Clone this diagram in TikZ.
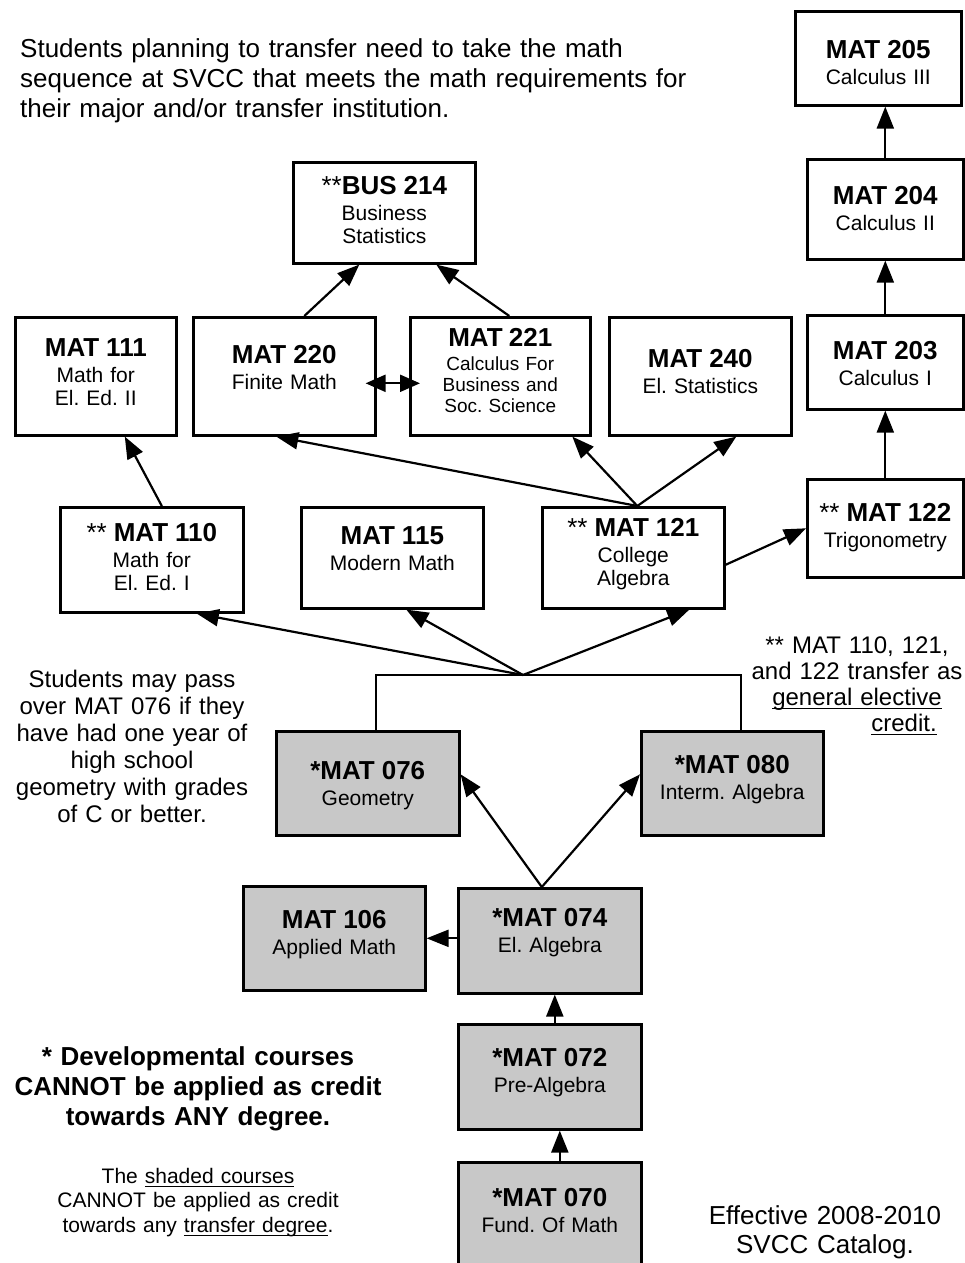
\documentclass[tikz,border=0pt]{standalone}
\usepackage{fontspec}
\setmainfont{Liberation Sans}
\usetikzlibrary{arrows.meta}
\definecolor{shade}{RGB}{200,200,200}
\frenchspacing
\newcommand{\crs}[2]{{\fontsize{26}{26}\selectfont\bfseries #1}\\[3pt]#2}
\newcommand{\uln}[1]{\leavevmode\setbox0\hbox{#1}\rlap{\vrule height -3pt depth 4.3pt width \wd0}\box0}
\begin{document}
\begin{tikzpicture}[x=1pt,y=-1pt]
\tikzstyle{course}=[draw, line width=2.6pt, inner sep=0pt, align=center, anchor=north west, font=\fontsize{21}{23}\selectfont]
\tikzstyle{dev}=[course, fill=shade]
\tikzstyle{link}=[line width=2.2pt]
\tikzstyle{arr}=[link, -{Triangle[length=22pt,width=17pt]}]
\tikzstyle{note}=[inner sep=0pt, align=center, anchor=base]
\useasboundingbox (0,0) rectangle (964,1263);
% calculus column
\node[course, text width=166pt, text height=47pt, text depth=47pt] (m205) at (794,10) {\crs{MAT 205}{Calculus III}};
\node[course, text width=156pt, text height=45pt, text depth=55pt] (m204) at (806,158) {\crs{MAT 204}{Calculus II}};
\node[course, text width=156pt, text height=44pt, text depth=50pt] (m203) at (806,314) {\crs{MAT 203}{Calculus I}};
\node[course, text width=156pt, text height=42pt, text depth=56pt] (m122) at (806,478) {\crs{{\mdseries **} MAT 122}{Trigonometry}};
% upper rows
\node[course, text width=182pt, text height=32pt, text depth=69pt] (b214) at (292,161) {\crs{{\mdseries **}BUS 214}{Business\\Statistics}};
\node[course, text width=161pt, text height=39pt, text depth=79pt] (m111) at (14,316) {\crs{MAT 111}{Math for\\El. Ed. II}};
\node[course, text width=182pt, text height=46pt, text depth=72pt] (m220) at (192,316) {\crs{MAT 220}{Finite Math}};
\node[course, text width=180pt, text height=29pt, text depth=89pt, font=\fontsize{19}{21}\selectfont] (m221) at (409,316) {\crs{MAT 221}{Calculus For\\Business and\\Soc. Science}};
\node[course, text width=182pt, text height=50pt, text depth=68pt] (m240) at (608,316) {\crs{MAT 240}{El. Statistics}};
\node[course, text width=183pt, text height=34pt, text depth=71pt] (m110) at (59,506) {\crs{{\mdseries **} MAT 110}{Math for\\El. Ed. I}};
\node[course, text width=182pt, text height=37pt, text depth=64pt] (m115) at (300,506) {\crs{MAT 115}{Modern Math}};
\node[course, text width=182pt, text height=29pt, text depth=72pt] (m121) at (541,506) {\crs{{\mdseries **} MAT 121}{College\\Algebra}};
% developmental (shaded)
\node[dev, text width=183pt, text height=48pt, text depth=56pt] (m076) at (275,730) {\crs{*MAT 076}{Geometry}};
\node[dev, text width=182pt, text height=42pt, text depth=62pt] (m080) at (640,730) {\crs{*MAT 080}{Interm. Algebra}};
\node[dev, text width=182pt, text height=42pt, text depth=62pt] (m106) at (242,885) {\crs{MAT 106}{Applied Math}};
\node[dev, text width=183pt, text height=38pt, text depth=67pt] (m074) at (457,887) {\crs{*MAT 074}{El. Algebra}};
\node[dev, text width=183pt, text height=42pt, text depth=63pt] (m072) at (457,1023) {\crs{*MAT 072}{Pre-Algebra}};
\node[dev, text width=183pt, text height=44pt, text depth=86pt] (m070) at (457,1161) {\crs{*MAT 070}{Fund. Of Math}};
% connectors
\draw[arr] (m203.north) -- (m204.south);
\draw[arr] (m204.north) -- (m204.north |- m205.south);
\draw[arr] (m122.north) -- (m203.south);
\draw[arr] ([yshift=-7pt]m121.east) -- (m122.west);
\coordinate (j121) at ([xshift=4pt]m121.north);
\draw[arr] (j121) -- ([xshift=-8pt]m220.south);
\draw[arr] (j121) -- ([xshift=72pt]m221.south);
\draw[arr] (j121) -- ([xshift=36pt]m240.south);
\draw[arr] ([xshift=20pt]m220.north) -- ([xshift=-25pt]b214.south);
\draw[arr] ([xshift=9pt]m221.north) -- ([xshift=52pt]b214.south);
\draw[link, {Triangle[length=20pt,width=17pt]}-{Triangle[length=20pt,width=17pt]}] ([xshift=-11pt,yshift=-7pt]m220.east) -- ([xshift=11pt,yshift=-7pt]m221.west);
\draw[arr] ([xshift=10pt]m110.north) -- ([xshift=29pt]m111.south);
\coordinate (jmid) at (523,675);
\draw[arr] (jmid) -- ([xshift=45pt]m110.south);
\draw[arr] (jmid) -- ([xshift=14pt]m115.south);
\draw[arr] (jmid) -- ([xshift=56pt]m121.south);
\coordinate (t076) at ([xshift=8pt]m076.north);
\coordinate (t080) at ([xshift=9pt]m080.north);
\draw[link] (t076) -- (t076 |- jmid) -- (t080 |- jmid) -- (t080);
\coordinate (j074) at ([xshift=-8pt]m074.north);
\draw[arr] (j074) -- ([yshift=9pt]m076.east);
\draw[arr] (j074) -- ([yshift=9pt]m080.west);
\draw[arr] (m106.east -| m074.west) -- (m106.east);
\draw[arr] ([xshift=5pt]m072.north) -- ([xshift=5pt]m074.south);
\draw[arr] ([xshift=10pt]m070.north) -- ([xshift=10pt]m072.south);
% notes
\node[note, text width=720pt, align=left, anchor=base west, font=\fontsize{26}{30}\selectfont] (intro) at (20,57) {Students planning to transfer need to take the math\\sequence at SVCC that meets the math requirements for\\their major and/or transfer institution.};
\node[note, text width=260pt, font=\fontsize{24}{27}\selectfont] (pass) at (132,687) {Students may pass\\over MAT 076 if they\\have had one year of\\high school\\geometry with grades\\of C or better.};
\node[note, text width=230pt, font=\fontsize{24}{26}\selectfont] (xfer) at (857,653) {** MAT 110, 121,\\and 122 transfer as\\\uln{general elective}\\\hspace*{94pt}\uln{credit.}};
\node[note, text width=400pt, font=\fontsize{26}{30}\selectfont\bfseries] (devnote) at (198,1065) {* Developmental courses\\CANNOT be applied as credit\\towards ANY degree.};
\node[note, text width=340pt, font=\fontsize{21}{24.5}\selectfont] (shaded) at (198,1183) {The \uln{shaded courses}\\CANNOT be applied as credit\\towards any \uln{transfer degree}.};
\node[note, text width=300pt, font=\fontsize{26}{29}\selectfont] (catalog) at (825,1224) {Effective 2008-2010\\SVCC Catalog.};
\end{tikzpicture}
\end{document}
